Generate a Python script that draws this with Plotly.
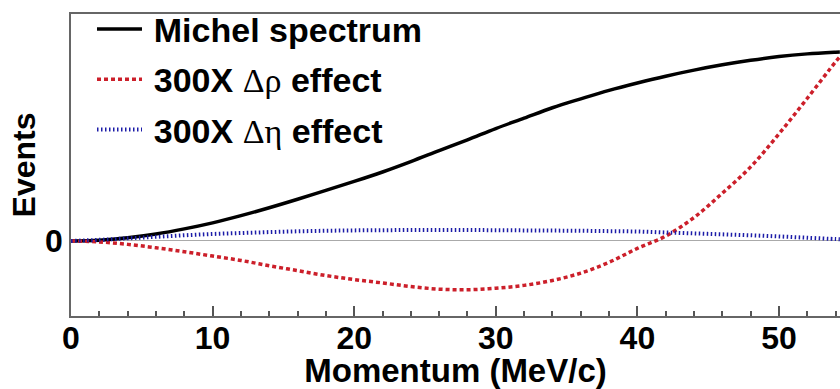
import plotly.graph_objects as go

momentum = [0, 2, 4, 6, 8, 10, 12, 14, 16, 18, 20, 22, 24, 26, 28, 30,
            32, 34, 36, 38, 40, 42, 44, 46, 48, 50, 52, 54, 54.3]

michel = [0.0, 0.004, 0.017, 0.037, 0.064, 0.096, 0.134, 0.176, 0.221, 0.268,
          0.315, 0.365, 0.420, 0.478, 0.535, 0.595, 0.650, 0.705, 0.752, 0.797,
          0.836, 0.872, 0.904, 0.932, 0.956, 0.976, 0.990, 0.999, 1.0]

delta_rho = [0.0, -0.005, -0.018, -0.036, -0.057, -0.080, -0.103, -0.131, -0.157, -0.183,
             -0.204, -0.222, -0.241, -0.255, -0.258, -0.250, -0.235, -0.209, -0.170, -0.113,
             -0.039, 0.026, 0.124, 0.253, 0.392, 0.567, 0.755, 0.948, 0.974]

delta_eta = [0.0, 0.006, 0.014, 0.022, 0.030, 0.037, 0.042, 0.047, 0.051, 0.054,
             0.056, 0.057, 0.058, 0.058, 0.058, 0.057, 0.056, 0.055, 0.054, 0.052,
             0.050, 0.045, 0.040, 0.035, 0.030, 0.024, 0.017, 0.010, 0.009]

x_ticks = [0, 10, 20, 30, 40, 50]
x_range = [0, 54.31]
y_range = [-0.397, 1.201]

GREEK = "<span style='font-weight:normal;font-family:\"Liberation Serif\"'>{}</span>"
names = [
    "\u2009Michel spectrum",
    "\u2009300X " + GREEK.format("Δρ") + " effect",
    "\u2009300X " + GREEK.format("Δη") + " effect",
]

FONT = "Liberation Sans, Arial, sans-serif"

fig = go.Figure()
fig.add_trace(go.Scatter(x=momentum, y=michel, mode="lines", name=names[0],
                         legendgroup="a", line_shape="spline",
                         line=dict(color="black", width=3.5)))
fig.add_trace(go.Scatter(x=momentum, y=delta_rho, mode="lines", name=names[1],
                         legendgroup="b", line_shape="spline",
                         line=dict(color="#cc1f2a", width=3.5, dash="4px,3px")))
fig.add_trace(go.Scatter(x=momentum, y=delta_eta, mode="lines", name=names[2],
                         legendgroup="c", line_shape="spline",
                         line=dict(color="#1c1ca8", width=4, dash="1.5px,2.5px")))

fig.update_layout(
    width=840, height=389,
    margin=dict(l=71, r=0, t=6, b=73),
    paper_bgcolor="white", plot_bgcolor="white",
    font=dict(family=FONT, color="black", weight="bold"),
    showlegend=True,
    legend=dict(x=0.0273, y=1.045, xanchor="left", yanchor="top",
                font=dict(size=34, family=FONT, weight="bold"),
                bgcolor="rgba(0,0,0,0)", borderwidth=0,
                traceorder="grouped", tracegroupgap=3, itemwidth=45),
    xaxis=dict(range=x_range, tickvals=x_ticks, ticks="inside", ticklen=10,
               tickwidth=1.5, tickcolor="#555", automargin=False,
               ticklabelstandoff=-7,
               showline=True, linecolor="#666", linewidth=1.5, mirror=True,
               showgrid=False, zeroline=False,
               tickfont=dict(size=32, family=FONT, weight="bold"),
               minor=dict(dtick=2, ticks="inside", ticklen=5, tickwidth=1.5,
                          tickcolor="#555", showgrid=False),
               title=dict(text="Momentum (MeV/c)", standoff=0,
                          font=dict(size=33, family=FONT, weight="bold"))),
    yaxis=dict(range=y_range, tickvals=[0], ticktext=["0"], ticks="",
               automargin=False,
               showline=True, linecolor="#666", linewidth=1.5, mirror=False,
               showgrid=False, zeroline=True, zerolinecolor="#aaa", zerolinewidth=1,
               tickfont=dict(size=32, family=FONT, weight="bold"),
               title=dict(text="Events", standoff=0,
                          font=dict(size=32, family=FONT, weight="bold"))),
)

fig.write_html(
    "out.html",
    config={"displayModeBar": False},
    post_script="document.body.style.margin='0';document.body.style.overflow='hidden';window.scrollTo(0,0);",
)
